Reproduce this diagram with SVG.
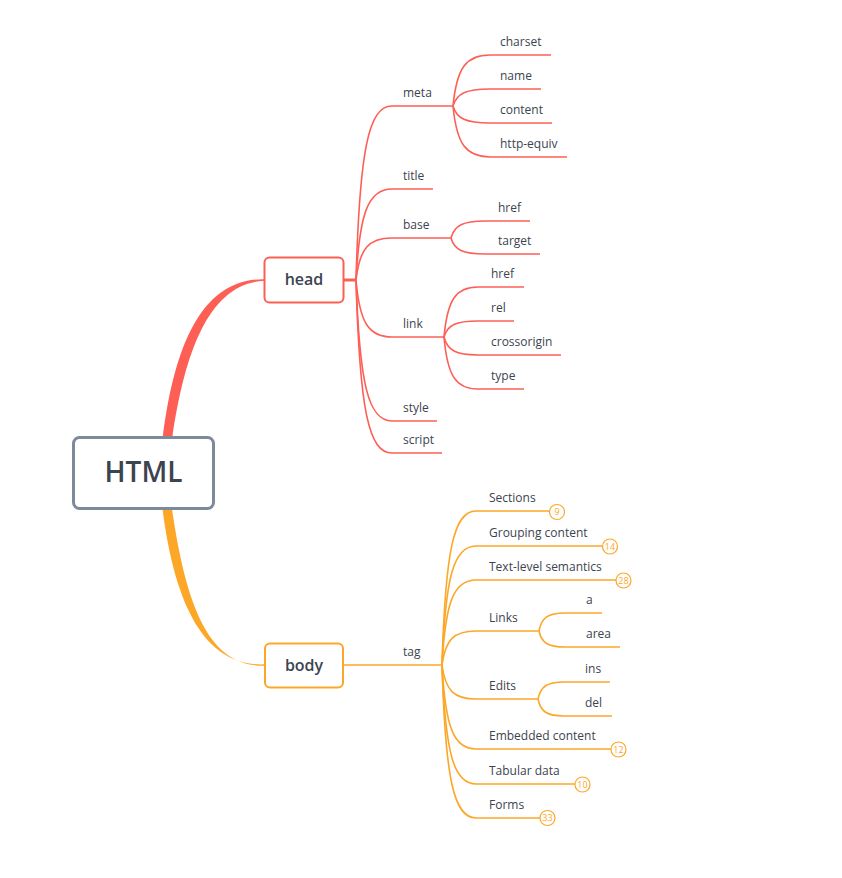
<svg xmlns="http://www.w3.org/2000/svg" width="842" height="878" viewBox="0 0 842 878">
<style>
text{font-family:"Open Sans","Noto Sans","Liberation Sans",sans-serif;fill:#3b444f}
.lbl{font-size:12px}
.r{fill:none;stroke:#fd5f55;stroke-width:1.6}
.o{fill:none;stroke:#fda728;stroke-width:1.6}
.cnt{fill:#fff;stroke:#fda728;stroke-width:1.2}
.num{font-size:9px;fill:#fda728;text-anchor:middle}
</style>
<rect width="842" height="878" fill="#fff"/>
<g id="connectors">
<path d="M162.5,440 C175,338 205,278.5 264.5,279.2 L264.5,280.8 C213,283 186,342 172,440 Z" fill="#fd5f55"/>
<path d="M162.5,509 C176,614 209,667 265,664.3 L265,665.7 C211,667 187,612 172,509 Z" fill="#fda728"/>
<path d="M343,280 H357" fill="none" stroke="#fd5f55" stroke-width="3"/>
<path class="r" d="M356,280 C359.6,149.5 368.6,106 392,106 H453"/>
<path class="r" d="M356,280 C359.6,211.75 368.6,189 392,189 H433"/>
<path class="r" d="M356,280 C359.6,248.5 368.6,238 392,238 H451"/>
<path class="r" d="M356,280 C359.6,322.75 368.6,337 392,337 H444"/>
<path class="r" d="M356,280 C359.6,385.75 368.6,421 392,421 H437"/>
<path class="r" d="M356,280 C359.6,409.75 368.6,453 392,453 H442"/>
<path class="r" d="M453,106 C456.7,67.75 466,55 490,55 H551"/>
<path class="r" d="M453,106 C456.7,93.25 466,89 490,89 H541"/>
<path class="r" d="M453,106 C456.7,118.75 466,123 490,123 H552"/>
<path class="r" d="M453,106 C456.7,144.25 466,157 490,157 H567"/>
<path class="r" d="M451,238 C454.4,225.25 462.9,221 485,221 H530"/>
<path class="r" d="M451,238 C454.4,250 462.9,254 485,254 H540"/>
<path class="r" d="M444,337 C447.4,299.5 455.9,287 478,287 H524"/>
<path class="r" d="M444,337 C447.4,325 455.9,321 478,321 H514"/>
<path class="r" d="M444,337 C447.4,350.5 455.9,355 478,355 H561"/>
<path class="r" d="M444,337 C447.4,376 455.9,389 478,389 H524"/>
<path class="o" d="M343,665 H442"/>
<path class="o" d="M442,665 C445.4,549.5 453.9,511 476,511 H549.5"/>
<path class="o" d="M442,665 C445.4,575.75 453.9,546 476,546 H602.5"/>
<path class="o" d="M442,665 C445.4,601.25 453.9,580 476,580 H616"/>
<path class="o" d="M442,665 C445.4,639.5 453.9,631 476,631 H539"/>
<path class="o" d="M442,665 C445.4,690.5 453.9,699 476,699 H538"/>
<path class="o" d="M442,665 C445.4,728 453.9,749 476,749 H611"/>
<path class="o" d="M442,665 C445.4,754.25 453.9,784 476,784 H575"/>
<path class="o" d="M442,665 C445.4,779.75 453.9,818 476,818 H540"/>
<path class="o" d="M539,631 C541.6,617.5 548.1,613 565,613 H602"/>
<path class="o" d="M539,631 C541.6,643 548.1,647 565,647 H620"/>
<path class="o" d="M538,699 C540.6,686.25 547.1,682 564,682 H610"/>
<path class="o" d="M538,699 C540.6,711.75 547.1,716 564,716 H612"/>
</g>
<g id="node-html">
<rect x="73.5" y="437.5" width="140" height="71" rx="6" fill="#fff" stroke="#7d8a9b" stroke-width="3"/>
<text x="143.5" y="482" font-size="28" font-weight="600" text-anchor="middle">HTML</text>
</g>
<g id="node-head">
<rect x="264.5" y="257.5" width="79" height="45" rx="5" fill="#fff" stroke="#fd5f55" stroke-width="2"/>
<text x="304" y="285" font-size="16" font-weight="600" text-anchor="middle">head</text>
</g>
<g id="node-body">
<rect x="265" y="643.5" width="78" height="44" rx="5" fill="#fff" stroke="#fda728" stroke-width="2"/>
<text x="304" y="671" font-size="16" font-weight="600" text-anchor="middle">body</text>
</g>
<g id="node-meta"><text class="lbl" x="403" y="97">meta</text></g>
<g id="node-title"><text class="lbl" x="403" y="180">title</text></g>
<g id="node-base"><text class="lbl" x="403" y="229">base</text></g>
<g id="node-link"><text class="lbl" x="403" y="328">link</text></g>
<g id="node-style"><text class="lbl" x="403" y="412">style</text></g>
<g id="node-script"><text class="lbl" x="403" y="444">script</text></g>
<g id="node-charset"><text class="lbl" x="500" y="46">charset</text></g>
<g id="node-name"><text class="lbl" x="500" y="80">name</text></g>
<g id="node-content"><text class="lbl" x="500" y="114">content</text></g>
<g id="node-http-equiv"><text class="lbl" x="500" y="148">http-equiv</text></g>
<g id="node-base-href"><text class="lbl" x="498" y="212">href</text></g>
<g id="node-base-target"><text class="lbl" x="498" y="245">target</text></g>
<g id="node-link-href"><text class="lbl" x="491" y="278">href</text></g>
<g id="node-link-rel"><text class="lbl" x="491" y="312">rel</text></g>
<g id="node-link-crossorigin"><text class="lbl" x="491" y="346">crossorigin</text></g>
<g id="node-link-type"><text class="lbl" x="491" y="380">type</text></g>
<g id="node-tag"><text class="lbl" x="403" y="656">tag</text></g>
<g id="node-sections"><text class="lbl" x="489" y="502">Sections</text><circle class="cnt" cx="557" cy="512" r="7.5"/><text class="num" x="557" y="515.2">9</text></g>
<g id="node-grouping"><text class="lbl" x="489" y="537">Grouping content</text><circle class="cnt" cx="610" cy="546.5" r="7.5"/><text class="num" x="610" y="549.7">14</text></g>
<g id="node-textlevel"><text class="lbl" x="489" y="571">Text-level semantics</text><circle class="cnt" cx="623.5" cy="580.5" r="7.5"/><text class="num" x="623.5" y="583.7">28</text></g>
<g id="node-links"><text class="lbl" x="489" y="622">Links</text></g>
<g id="node-a"><text class="lbl" x="586" y="604">a</text></g>
<g id="node-area"><text class="lbl" x="586" y="638">area</text></g>
<g id="node-edits"><text class="lbl" x="489" y="690">Edits</text></g>
<g id="node-ins"><text class="lbl" x="585" y="673">ins</text></g>
<g id="node-del"><text class="lbl" x="585" y="707">del</text></g>
<g id="node-embedded"><text class="lbl" x="489" y="740">Embedded content</text><circle class="cnt" cx="618.5" cy="749.5" r="7.5"/><text class="num" x="618.5" y="752.7">12</text></g>
<g id="node-tabular"><text class="lbl" x="489" y="775">Tabular data</text><circle class="cnt" cx="582.5" cy="784.5" r="7.5"/><text class="num" x="582.5" y="787.7">10</text></g>
<g id="node-forms"><text class="lbl" x="489" y="809">Forms</text><circle class="cnt" cx="547.5" cy="818" r="7.5"/><text class="num" x="547.5" y="821.2">33</text></g>
</svg>
